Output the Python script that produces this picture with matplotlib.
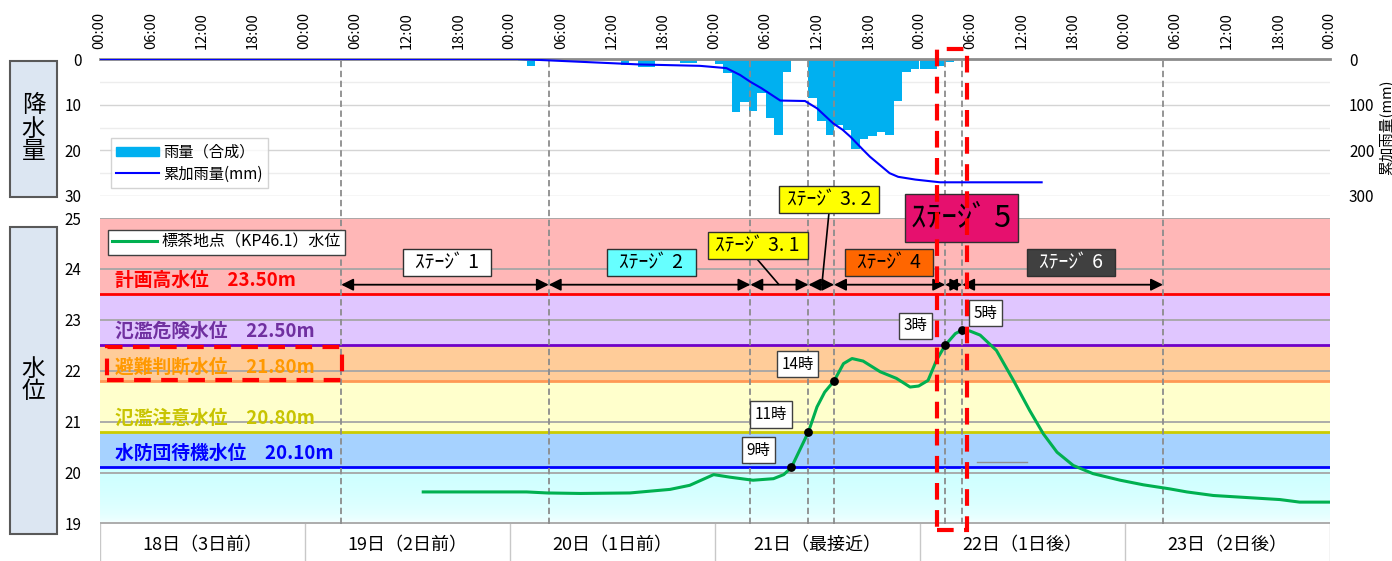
import numpy as np
import matplotlib
matplotlib.use('Agg')
import matplotlib.pyplot as plt
from matplotlib import transforms
from matplotlib.colors import LinearSegmentedColormap
from matplotlib.lines import Line2D
from matplotlib.patches import Patch, Rectangle

plt.rcParams['font.family'] = ['Noto Sans CJK JP', 'DejaVu Sans']

# 時刻はすべて 18日 00:00 からの経過時間 [h]
rain_start = 49
rain_mm = [0.5, 1.5, 0, 0, 0, 0, 0, 0, 0, 0,
           0.3, 0.3, 1.3, 0.3, 1.7, 1.7, 0.3, 0.5, 0.5, 0.9,
           0.9, 0.3, 0.3, 1.1, 3.1, 11.6, 9.4, 11.4, 7.5, 13.0,
           16.6, 2.9, 0, 0, 8.6, 13.5, 16.6, 14.5, 15.5, 19.7,
           17.5, 16.8, 15.9, 16.6, 9.1, 2.9, 2.2, 2.2, 2.2, 1.5,
           0.6, 0.2]

cum_h = [0, 49.0, 52.6, 63.3, 70.3, 73.4, 75.0, 76.2, 77.5, 79.7, 82.6,
         84.0, 85.9, 87.0, 87.9, 89.4, 90.2, 92.5, 93.5, 95.5, 98.4, 110.3]
cum_mm = [0, 0, 3, 12, 15, 20, 35, 50, 64, 91, 92,
          108, 141, 155, 170, 199, 214, 250, 258, 264, 270, 270]

wl_h = [37.9, 50.0, 52.4, 56.3, 62.1, 66.8, 69.1, 71.9, 73.8, 76.5,
        78.9, 80.1, 81.0, 83.0, 84.0, 84.9, 86.0, 87.1, 88.1, 89.4,
        91.4, 93.3, 94.9, 95.9, 97.0, 98.0, 99.0, 100.2, 101.0, 101.9,
        103.1, 105.0, 107.0, 108.9, 110.5, 112.1, 114.0, 116.3, 119.5, 122.2,
        125.3, 127.3, 130.4, 134.3, 138.2, 140.5, 144.0]
wl_m = [19.62, 19.62, 19.60, 19.59, 19.60, 19.67, 19.75, 19.96, 19.91, 19.85,
        19.88, 19.96, 20.10, 20.80, 21.29, 21.58, 21.80, 22.14, 22.24, 22.19,
        21.98, 21.85, 21.68, 21.70, 21.81, 22.21, 22.50, 22.73, 22.80, 22.78,
        22.70, 22.40, 21.81, 21.22, 20.76, 20.40, 20.14, 19.98, 19.85, 19.76,
        19.68, 19.62, 19.55, 19.51, 19.47, 19.42, 19.42]

mark_h = [81, 83, 86, 99, 101]
mark_m = [20.10, 20.80, 21.80, 22.50, 22.80]
mark_txt = ['9時', '11時', '14時', '3時', '5時']

stage_h = [28.3, 52.6, 76.2, 83.0, 86.0, 99.0, 101.0, 124.5]
stage_txt = ['ｽﾃｰｼﾞ 1', 'ｽﾃｰｼﾞ 2', 'ｽﾃｰｼﾞ 3. 1', 'ｽﾃｰｼﾞ 3. 2', 'ｽﾃｰｼﾞ 4', 'ｽﾃｰｼﾞ 5', 'ｽﾃｰｼﾞ 6']

levels = [23.50, 22.50, 21.80, 20.80, 20.10]
level_names = ['計画高水位', '氾濫危険水位', '避難判断水位', '氾濫注意水位', '水防団待機水位']

days = ['18日（3日前）', '19日（2日前）', '20日（1日前）', '21日（最接近）', '22日（1日後）', '23日（2日後）']
time_labels = ['00:00', '06:00', '12:00', '18:00'] * 6 + ['00:00']

W, H = 1392, 561
fig = plt.figure(figsize=(W / 100, H / 100), dpi=100)


def fx(px):
    return px / W


def fy(py):
    return 1 - py / H


X0, XW = 99.5, 1230
ax_r = fig.add_axes([fx(X0), fy(196), fx(XW), 137 / H])
ax_w = fig.add_axes([fx(X0), fy(523.5), fx(XW), 305.5 / H])
ax_d = fig.add_axes([fx(X0), 0, fx(XW), 37.5 / H])

# ---- 降水量 ----
hrs = np.arange(rain_start, rain_start + len(rain_mm))
bars = ax_r.bar(hrs, rain_mm, width=1, align='edge', color='#00B0F0', zorder=2)
ax_r.set_xlim(0, 144)
ax_r.set_ylim(30, 0)
ax_r.set_yticks([0, 10, 20, 30])
ax_r.set_yticks([5, 15, 25], minor=True)
ax_r.grid(axis='y', which='major', color='#D4D4D4', lw=1)
ax_r.grid(axis='y', which='minor', color='#EDEDED', lw=1)
ax_r.set_axisbelow(True)
ax_r.xaxis.tick_top()
ax_r.set_xticks(np.arange(0, 145, 6))
ax_r.set_xticklabels(time_labels, rotation=90, fontsize=10.5)
ax_r.tick_params(axis='x', length=0, pad=7)
ax_r.tick_params(axis='y', which='both', length=0, pad=13, labelsize=11)
for s in ['left', 'right', 'bottom']:
    ax_r.spines[s].set_visible(False)
ax_r.spines['top'].set_color('#8C8C8C')
ax_r.spines['top'].set_linewidth(2)

ax_c = ax_r.twinx()
cum_line, = ax_c.plot(cum_h, cum_mm, color='#0000FF', lw=1.5, zorder=3)
ax_c.set_ylim(300, 0)
ax_c.set_yticks([0, 100, 200, 300])
ax_c.tick_params(axis='y', length=0, pad=14, labelsize=11)
ax_c.set_ylabel('累加雨量(mm)', fontsize=10.5, labelpad=3)
for s in ax_c.spines.values():
    s.set_visible(False)
leg = ax_c.legend([Patch(color='#00B0F0'), Line2D([], [], color='#0000FF', lw=1.5)],
                  ['雨量（合成）', '累加雨量(mm)'], loc='upper left',
                  bbox_to_anchor=(0.009, 0.42), borderaxespad=0, fontsize=11,
                  frameon=True, fancybox=False, handlelength=2.8, handleheight=0.55,
                  labelspacing=0.3, borderpad=0.35, handletextpad=0.3)
leg.get_frame().set_edgecolor('#C8C8C8')
leg.get_frame().set_linewidth(1)

# ---- 水位 ----
ax_w.set_xlim(0, 144)
ax_w.set_ylim(19, 25)
bands = [(23.5, 25, '#FFB7B7'), (22.5, 23.5, '#E0C6FF'), (21.8, 22.5, '#FFCC99'),
         (20.8, 21.8, '#FFFFCC'), (20.1, 20.8, '#A6D2FF')]
for lo, hi, c in bands:
    ax_w.axhspan(lo, hi, color=c, lw=0, zorder=0.5)
grad = LinearSegmentedColormap.from_list('g', ['#FFFFFF', '#CCFFFF'])
ax_w.imshow(np.linspace(0, 1, 100).reshape(-1, 1)[::-1] ** 0.35, cmap=grad,
            extent=[0, 144, 19, 20.1], aspect='auto', zorder=0.4, origin='upper')
ax_w.set_xlim(0, 144)
ax_w.set_ylim(19, 25)
ax_w.set_yticks(range(19, 26))
ax_w.grid(axis='y', color='#A6A6A6', lw=1.3)
ax_w.set_xticks([])
ax_w.tick_params(axis='y', length=0, pad=13, labelsize=11)
for s in ax_w.spines.values():
    s.set_visible(False)

level_cols = ['#FF0000', '#7000C8', '#FF9955', '#CCCC00', '#0000FF']
label_cols = ['#FF0000', '#7030A0', '#FF9900', '#C8C400', '#0000FF']
for lv, nm, lc, tc in zip(levels, level_names, level_cols, label_cols):
    ax_w.axhline(lv, color=lc, lw=2, zorder=2)
    ax_w.text(1.8, lv + 0.27, f'{nm}　{lv:.2f}m', color=tc, fontsize=13.5,
              fontweight='bold', va='center', zorder=3)

# ステージ区切りの縦破線
vtrans = transforms.blended_transform_factory(ax_w.transData, ax_w.transAxes)
for h in stage_h:
    ax_w.plot([h, h], [0, 1 + 159 / 305.5], transform=vtrans, clip_on=False,
              color='#8C8C8C', lw=1.3, ls=(0, (3.5, 2)), zorder=2.5)

# ステージ矢印
for a, b in zip(stage_h[:-1], stage_h[1:]):
    ax_w.annotate('', xy=(b, 23.69), xytext=(a, 23.69),
                  arrowprops=dict(arrowstyle='<|-|>', color='black', lw=1.3,
                                  mutation_scale=18, shrinkA=0, shrinkB=0), zorder=4)

# 引き出し線
ax_w.plot([77.1, 79.5], [24.17, 23.70], color='black', lw=1.2, zorder=4)
ax_w.plot([85.4, 84.6], [25.10, 23.74], color='black', lw=1.2, zorder=4, clip_on=False)

# ステージラベル
stage_box = [(35.5, 45.8, 23.86, 24.39), (59.4, 69.8, 23.86, 24.39),
             (71.2, 82.9, 24.19, 24.72), (79.5, 91.3, 25.10, 25.63),
             (87.3, 97.6, 23.86, 24.39), (94.3, 107.5, 24.53, 25.47),
             (108.6, 118.9, 23.86, 24.39)]
stage_fc = ['white', '#66FFFF', '#FFFF00', '#FFFF00', '#FF6600', '#E6106E', '#404040']
stage_tc = ['black'] * 6 + ['white']
stage_fs = [14, 14, 14, 14, 14, 22, 14]
for (h0, h1, l0, l1), t, fc, tc, fs in zip(stage_box, stage_txt, stage_fc, stage_tc, stage_fs):
    ax_w.add_patch(Rectangle((h0, l0), h1 - h0, l1 - l0, fc=fc, ec='#303030',
                             lw=1, clip_on=False, zorder=6))
    ax_w.text((h0 + h1) / 2, (l0 + l1) / 2, t, color=tc, fontsize=fs,
              ha='center', va='center', zorder=7, clip_on=False)

# 水位
wl_line, = ax_w.plot(wl_h, wl_m, color='#00B050', lw=2.2, zorder=5)
ax_w.scatter(mark_h, mark_m, s=28, color='black', zorder=6)
mark_pos = [(77.1, 20.44), (78.6, 21.14), (81.7, 22.13), (95.5, 22.88), (103.7, 23.13)]
for (px, py), t in zip(mark_pos, mark_txt):
    ax_w.text(px, py, t, fontsize=11, ha='center', va='center', zorder=7,
              bbox=dict(boxstyle='square,pad=0.3', fc='white', ec='#404040', lw=1))

ax_w.plot([102.7, 108.6], [20.2, 20.2], color='#909090', lw=1, zorder=3)

leg2 = ax_w.legend([wl_line], ['標茶地点（KP46.1）水位'], loc='upper left',
                   bbox_to_anchor=(0.007, 0.961), borderaxespad=0, fontsize=11.5,
                   fancybox=False, framealpha=1, handlelength=2.8, borderpad=0.25,
                   handletextpad=0.3)
leg2.get_frame().set_edgecolor('#404040')
leg2.get_frame().set_linewidth(1)
leg2.set_zorder(8)

# 赤破線の枠
ax_w.add_patch(Rectangle((98.05, 18.88), 3.55, 9.43, fill=False, ec='#FF0000',
                         lw=3, ls=(0, (4, 2.5)), clip_on=False, zorder=9))
ax_w.add_patch(Rectangle((0.9, 21.81), 27.5, 0.65, fill=False, ec='#FF0000',
                         lw=3, ls=(0, (4, 2.5)), clip_on=False, zorder=9))

# ---- 日付行 ----
ax_d.set_xlim(0, 144)
ax_d.set_ylim(0, 1)
ax_d.axis('off')
for d in range(0, 145, 24):
    ax_d.axvline(d, color='#C8C8C8', lw=1)
for i, t in enumerate(days):
    ax_d.text(12 + 24 * i, 0.42, t, fontsize=13, ha='center', va='center')

# ---- 左側の見出し ----
for top, bot, t in [(61, 197, '降\n水\n量'), (227, 534, '水\n位')]:
    fig.add_artist(Rectangle((fx(10), fy(bot)), fx(47), (bot - top) / H,
                             transform=fig.transFigure, fc='#DCE6F2',
                             ec='#595959', lw=1.5))
    fig.text(fx(33.5), fy((top + bot) / 2), t, fontsize=17, ha='center',
             va='center', linespacing=1.0)

fig.savefig('out.png', dpi=100)
